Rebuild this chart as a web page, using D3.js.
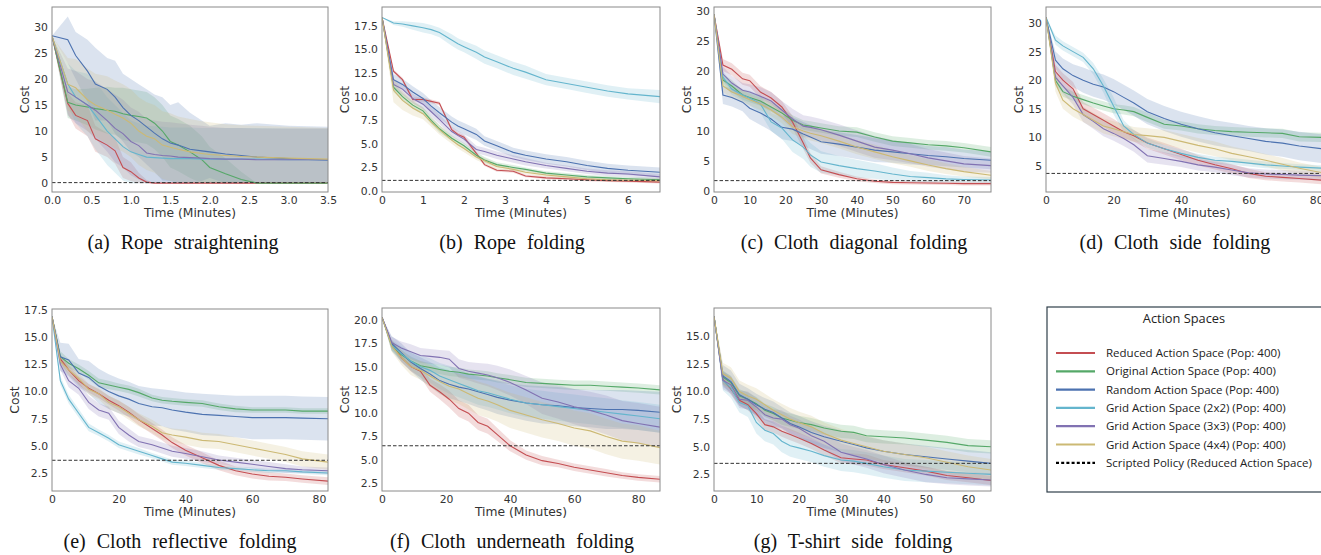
<!DOCTYPE html>
<html>
<head>
<meta charset="utf-8">
<script src="https://cdn.jsdelivr.net/npm/d3@7"></script>
<style>
  body { margin: 0; background: #fff; }
  text { font-family: "DejaVu Sans", sans-serif; }
</style>
</head>
<body>
<div id="chart"></div>
<script>
// series order: reduced, original, random, grid 2x2, grid 3x3, grid 4x4
var seriesNames = ["Reduced Action Space (Pop: 400)", "Original Action Space (Pop: 400)", "Random Action Space (Pop: 400)",
  "Grid Action Space (2x2) (Pop: 400)", "Grid Action Space (3x3) (Pop: 400)", "Grid Action Space (4x4) (Pop: 400)"];
var scriptedName = "Scripted Policy (Reduced Action Space)";
var seriesColors = ["#C44E52", "#55A868", "#4C72B0", "#64B5CD", "#8172B2", "#CCB974"];

// (a) Rope straightening
var ropeStraightTime = [0, 0.2, 0.3, 0.45, 0.55, 0.7, 0.8, 0.9, 1.0, 1.1, 1.2, 1.3, 1.4, 1.5, 1.6, 1.75, 1.9, 2.0, 2.2, 2.4, 2.6, 3.0, 3.5];
var ropeStraightMean = [
  [28.2, 15.3, 13, 12, 8.5, 7.3, 6.2, 3, 2.2, 1, 0.2, 0, 0, 0, 0, 0, 0, 0, 0, 0, 0, 0, 0],
  [28.2, 15.5, 15, 14.6, 14.3, 14, 13.8, 13.3, 13, 12.8, 12.5, 11.5, 10, 8, 7.3, 6, 4.5, 3, 1.8, 0.7, 0, 0, 0],
  [28.3, 27.5, 24.5, 21.5, 19, 18, 16.5, 14.5, 13, 12, 10.8, 9.6, 8.5, 7.7, 7.3, 6.5, 6.2, 6, 5.6, 5.3, 5, 4.7, 4.4],
  [28.2, 19, 16.5, 15, 13, 10, 8.5, 7, 6, 5.5, 5, 4.9, 4.8, 4.7, 4.7, 4.7, 4.6, 4.6, 4.6, 4.6, 4.6, 4.5, 4.5],
  [28.2, 17.5, 16.5, 15, 14, 12, 10.5, 9.5, 8, 7.2, 5.8, 5.5, 5.3, 5.2, 5, 4.9, 4.8, 4.7, 4.6, 4.6, 4.5, 4.5, 4.5],
  [28.2, 19, 18.3, 16, 15, 14, 13.2, 12.5, 11.5, 10, 9, 8.5, 7.3, 6.9, 6.5, 6, 5.7, 5.5, 5.3, 5.1, 5, 4.8, 4.6]
];
var ropeStraightSpread = [
  [0, 2, 2.5, 3, 2.5, 2.3, 2.5, 2, 1.8, 1, 0.4, 0, 0, 0, 0, 0, 0, 0, 0, 0, 0, 0, 0],
  [0, 3, 3, 3.5, 4, 4.5, 4.5, 5, 5, 5, 5, 5, 5, 5, 5, 5, 4.5, 4, 3, 1.5, 0, 0, 0],
  [0, 4.5, 4.5, 6, 7, 6, 7, 6.5, 7, 7, 7.2, 7.4, 8, 7.3, 8.2, 7, 5.8, 5, 5.9, 5.9, 6.5, 6.3, 6.4],
  [0, 4, 5, 6, 6.5, 6.5, 6.5, 6.5, 6, 6, 6, 6, 6, 6, 6, 6, 6, 6, 6, 6, 6, 6, 6],
  [0, 4.5, 5, 5, 5.5, 6, 6.5, 6.5, 6.5, 6.5, 6.5, 6.5, 6.5, 6.5, 6.5, 6.3, 6.2, 6.1, 6, 6, 6, 6, 6],
  [0, 5, 5.5, 6, 6, 6.5, 6.5, 6.5, 6.5, 6.5, 6.5, 6.5, 6.5, 6.5, 6.3, 6.3, 6.2, 6.2, 6, 6, 6, 6, 6]
];
var ropeStraightScripted = 0.1;
var ropeStraightXTicks = [0, 0.5, 1.0, 1.5, 2.0, 2.5, 3.0, 3.5];
var ropeStraightYTicks = [0, 5, 10, 15, 20, 25, 30];

// (b) Rope folding
var ropeFoldTime = [0, 0.28, 0.5, 0.75, 1.0, 1.2, 1.4, 1.7, 1.85, 2.0, 2.3, 2.5, 2.8, 3.2, 3.5, 4.0, 4.5, 5.0, 5.5, 6.0, 6.78];
var ropeFoldMean = [
  [18.4, 12.7, 11.8, 9.7, 9.7, 9.5, 9.3, 6.5, 6.0, 5.7, 4.0, 2.8, 2.2, 2.1, 1.6, 1.4, 1.3, 1.2, 1.1, 1.05, 0.95],
  [18.4, 11.0, 10.0, 9.1, 8.5, 7.5, 6.6, 5.6, 5.2, 4.8, 3.8, 3.3, 2.8, 2.5, 2.3, 1.9, 1.7, 1.5, 1.4, 1.3, 1.2],
  [18.4, 11.8, 11.3, 10.5, 9.8, 9.0, 8.3, 7.3, 6.9, 6.6, 6.0, 5.3, 4.8, 4.1, 3.8, 3.4, 3.1, 2.7, 2.4, 2.2, 2.0],
  [18.4, 17.8, 17.7, 17.5, 17.3, 17.1, 16.8, 16.0, 15.6, 15.3, 14.7, 14.2, 13.7, 13.0, 12.6, 11.8, 11.4, 11.0, 10.6, 10.3, 10.0],
  [18.4, 11.3, 10.8, 9.8, 9.2, 8.4, 7.6, 6.3, 5.9, 5.5, 4.4, 4.2, 3.8, 3.4, 3.1, 2.7, 2.4, 2.1, 1.9, 1.8, 1.5],
  [18.4, 10.7, 9.6, 8.8, 8.2, 7.3, 6.5, 5.4, 4.9, 4.5, 3.6, 3.2, 2.6, 2.3, 2.0, 1.7, 1.5, 1.3, 1.2, 1.15, 1.1]
];
var ropeFoldSpread = [
  [0, 0.2, 0.2, 0.2, 0.2, 0.2, 0.2, 0.2, 0.2, 0.2, 0.2, 0.15, 0.15, 0.15, 0.15, 0.15, 0.15, 0.15, 0.15, 0.15, 0.15],
  [0, 0.5, 0.4, 0.4, 0.4, 0.4, 0.4, 0.3, 0.3, 0.3, 0.3, 0.3, 0.25, 0.25, 0.2, 0.2, 0.2, 0.2, 0.2, 0.2, 0.2],
  [0, 0.6, 0.6, 0.6, 0.6, 0.6, 0.6, 0.6, 0.6, 0.6, 0.6, 0.5, 0.5, 0.5, 0.5, 0.5, 0.5, 0.5, 0.5, 0.5, 0.5],
  [0, 0.2, 0.3, 0.4, 0.5, 0.5, 0.5, 0.6, 0.6, 0.6, 0.7, 0.7, 0.7, 0.7, 0.7, 0.6, 0.6, 0.6, 0.6, 0.6, 0.7],
  [0, 0.6, 0.6, 0.5, 0.5, 0.5, 0.5, 0.5, 0.5, 0.5, 0.4, 0.4, 0.4, 0.4, 0.4, 0.3, 0.3, 0.3, 0.3, 0.3, 0.3],
  [0, 1.3, 1.0, 0.8, 0.6, 0.5, 0.5, 0.4, 0.4, 0.4, 0.3, 0.3, 0.3, 0.2, 0.2, 0.2, 0.2, 0.2, 0.2, 0.2, 0.2]
];
var ropeFoldScripted = 1.13;
var ropeFoldXTicks = [0, 1, 2, 3, 4, 5, 6];
var ropeFoldYTicks = [0, 2.5, 5, 7.5, 10, 12.5, 15, 17.5];

// (c) Cloth diagonal folding
var clothDiagTime = [0, 2.5, 5, 8, 10, 13, 16, 19, 22, 25, 27, 30, 35, 40, 45, 50, 55, 60, 65, 70, 77.6];
var clothDiagMean = [
  [29.5, 21, 20.3, 18.7, 18.4, 16.5, 15.5, 14, 11.5, 8, 5.5, 3.5, 2.7, 2.0, 1.6, 1.4, 1.35, 1.3, 1.25, 1.2, 1.2],
  [29.5, 18.5, 17.5, 16, 15.6, 15, 14, 13, 11.8, 11, 10.8, 10.5, 10, 9.8, 9, 8.3, 8, 7.7, 7.5, 7.2, 6.5],
  [29.5, 16, 15.6, 14.8, 13.8, 13, 12, 10.6, 10.3, 9.5, 9, 8.2, 7.8, 7.3, 6.8, 6.5, 6.2, 5.9, 5.7, 5.4, 5.1],
  [29.5, 19, 17, 16, 15.5, 14.5, 11.5, 10.5, 8.5, 7.3, 6, 4.8, 4.2, 3.7, 3.3, 2.8, 2.4, 2.2, 2.0, 1.9, 1.8],
  [29.5, 19.5, 18, 16.8, 16.5, 15.8, 15, 13.5, 12, 10.8, 10.6, 10.2, 9.3, 8.3, 7.3, 6.8, 6.2, 5.5, 5, 4.5, 4.2],
  [29.5, 17.5, 16.5, 15.8, 15.2, 14.5, 13.5, 12.3, 10.7, 10, 9.6, 9.2, 8.3, 7.3, 6.5, 5.7, 5, 4.3, 3.7, 3.2, 2.6]
];
var clothDiagSpread = [
  [0, 1, 1, 1, 1, 1, 1, 1, 1, 1, 0.8, 0.6, 0.5, 0.4, 0.3, 0.3, 0.3, 0.3, 0.3, 0.3, 0.3],
  [0, 1, 1, 0.8, 0.8, 0.8, 0.8, 0.8, 0.8, 0.8, 0.8, 0.8, 0.8, 0.8, 0.8, 0.8, 0.8, 0.8, 0.8, 0.8, 0.8],
  [0, 1.5, 1.5, 1.5, 1.8, 2, 2, 2, 2, 2, 2, 2, 2, 2, 2, 1.8, 1.8, 1.6, 1.6, 1.5, 1.5],
  [0, 1, 1, 1, 1.2, 1.5, 1.5, 1.8, 2, 2, 2, 1.8, 1.6, 1.5, 1.3, 1.1, 0.9, 0.8, 0.6, 0.5, 0.5],
  [0, 1.2, 1.2, 1.2, 1.3, 1.5, 1.5, 1.5, 1.7, 1.8, 1.8, 1.8, 1.8, 1.8, 1.8, 1.7, 1.6, 1.5, 1.4, 1.3, 1.2],
  [0, 1, 1, 1, 1, 1, 1, 1, 1.2, 1.2, 1.2, 1.2, 1.2, 1.2, 1.2, 1.1, 1, 1, 0.9, 0.8, 0.7]
];
var clothDiagScripted = 1.7;
var clothDiagXTicks = [0, 10, 20, 30, 40, 50, 60, 70];
var clothDiagYTicks = [0, 5, 10, 15, 20, 25, 30];

// (d) Cloth side folding
var clothSideTime = [0, 2.8, 5, 8, 11, 14, 17, 20, 23, 26, 30, 35, 40, 45, 50, 55, 60, 65, 70, 75, 82];
var clothSideMean = [
  [31, 21.5, 20, 18.5, 15, 14, 13, 12, 11, 10.3, 9, 8, 7, 6, 5.2, 4.5, 3.7, 3.2, 3, 2.8, 2.5],
  [31, 20, 18, 17.2, 16.6, 16, 15.5, 15, 14.8, 14.5, 13.5, 12.3, 12, 11.5, 11.2, 11, 10.9, 10.8, 10.7, 10.1, 10],
  [31, 23.5, 22, 20.8, 20, 19.3, 18.8, 18, 17, 16, 14.5, 13.3, 12.3, 11.5, 10.8, 10.3, 9.8, 9.3, 9, 8.5, 8],
  [31, 27, 26, 25, 24, 22, 19, 15.5, 12, 10.5, 9, 8, 7.2, 6.5, 6, 5.8, 5.5, 5.2, 5, 4.8, 4.6],
  [31, 20.5, 19, 17, 14, 12.8, 11.5, 10.7, 9.8, 8.7, 6.8, 6.3, 5.8, 5.2, 4.8, 4.3, 3.8, 3.6, 3.5, 3.4, 3.3],
  [31, 19.5, 16.5, 15, 14, 13, 12, 11.5, 11, 10.5, 10.3, 10, 9.3, 8.6, 8, 7.2, 6.6, 6, 5.3, 4.6, 3.8]
];
var clothSideSpread = [
  [0, 1.2, 1.2, 1.2, 1.2, 1.2, 1.2, 1.2, 1.1, 1, 1, 1, 1, 0.9, 0.8, 0.8, 0.8, 0.7, 0.7, 0.7, 0.7],
  [0, 1, 0.9, 0.8, 0.8, 0.8, 0.8, 0.8, 0.8, 0.8, 0.8, 0.8, 0.8, 0.8, 0.8, 0.8, 0.8, 0.8, 0.8, 0.8, 0.8],
  [0, 1.5, 1.8, 2, 2.2, 2.2, 2.2, 2.2, 2.2, 2.2, 2.2, 2.2, 2.2, 2.2, 2.2, 2.2, 2.2, 2.3, 2.4, 2.5, 2.5],
  [0, 0.8, 0.8, 0.8, 0.8, 1, 1.2, 1.5, 1, 0.8, 0.8, 0.7, 0.7, 0.6, 0.6, 0.6, 0.6, 0.6, 0.5, 0.5, 0.5],
  [0, 1.2, 1.3, 1.3, 1.3, 1.3, 1.3, 1.3, 1.3, 1.2, 1.2, 1.1, 1, 1, 0.9, 0.9, 0.8, 0.8, 0.8, 0.8, 0.8],
  [0, 1.5, 1.5, 1.4, 1.3, 1.3, 1.3, 1.3, 1.3, 1.3, 1.3, 1.3, 1.3, 1.3, 1.3, 1.2, 1.2, 1.1, 1.1, 1, 1]
];
var clothSideScripted = 3.7;
var clothSideXTicks = [0, 20, 40, 60, 80];
var clothSideYTicks = [5, 10, 15, 20, 25, 30];

// (e) Cloth reflective folding
var clothReflTime = [0, 2.5, 5, 8, 11, 14, 17, 20, 23, 26, 30, 33, 36, 40, 45, 50, 55, 60, 65, 70, 75, 82.7];
var clothReflMean = [
  [16.9, 13, 12, 11, 10.3, 9.8, 9.2, 8.7, 8.1, 7.4, 6.6, 6.0, 5.3, 4.6, 3.9, 3.2, 2.7, 2.4, 2.2, 2.1, 1.95, 1.75],
  [16.9, 13.2, 12.6, 12.1, 11.5, 10.8, 10.6, 10.4, 10.2, 9.9, 9.4, 9.2, 9.1, 9.0, 8.9, 8.6, 8.4, 8.3, 8.3, 8.3, 8.2, 8.2],
  [16.9, 13.2, 12.9, 11.7, 11.3, 10.5, 10, 9.6, 9.3, 8.9, 8.6, 8.5, 8.3, 8.1, 7.9, 7.8, 7.7, 7.6, 7.6, 7.6, 7.55, 7.5],
  [16.9, 11, 9.3, 8.0, 6.7, 6.2, 5.7, 5.1, 4.8, 4.5, 4.1, 3.8, 3.5, 3.4, 3.2, 3.0, 2.9, 2.8, 2.7, 2.7, 2.6, 2.5],
  [16.9, 12.5, 11, 10.3, 9, 8.3, 8, 6.7, 6, 5.4, 5.1, 4.8, 4.5, 4.3, 4.0, 3.7, 3.5, 3.3, 3.1, 2.9, 2.8, 2.7],
  [16.9, 12.8, 12.0, 11.2, 10.2, 9.8, 9.0, 8.6, 8.0, 7.4, 6.8, 6.2, 6.0, 5.8, 5.5, 5.4, 5.1, 4.8, 4.5, 4.2, 3.8, 3.5]
];
var clothReflSpread = [
  [0, 0.4, 0.4, 0.4, 0.4, 0.4, 0.4, 0.45, 0.5, 0.5, 0.5, 0.5, 0.5, 0.5, 0.5, 0.45, 0.4, 0.4, 0.4, 0.35, 0.35, 0.35],
  [0, 0.5, 0.4, 0.4, 0.4, 0.4, 0.4, 0.35, 0.35, 0.35, 0.3, 0.3, 0.3, 0.3, 0.3, 0.3, 0.3, 0.25, 0.25, 0.25, 0.25, 0.25],
  [0, 1.3, 1.5, 1.3, 1.5, 1.6, 1.6, 1.6, 1.6, 1.6, 1.7, 1.7, 1.8, 1.8, 1.9, 1.9, 1.9, 2.0, 2.0, 2.0, 2.0, 2.0],
  [0, 0.4, 0.4, 0.4, 0.35, 0.3, 0.3, 0.3, 0.3, 0.3, 0.25, 0.25, 0.25, 0.25, 0.25, 0.2, 0.2, 0.2, 0.2, 0.2, 0.2, 0.2],
  [0, 0.5, 0.6, 0.6, 0.6, 0.6, 0.6, 0.6, 0.6, 0.5, 0.5, 0.5, 0.5, 0.5, 0.5, 0.4, 0.4, 0.4, 0.4, 0.4, 0.3, 0.3],
  [0, 0.4, 0.5, 0.5, 0.5, 0.5, 0.6, 0.6, 0.6, 0.6, 0.6, 0.6, 0.6, 0.7, 0.7, 0.7, 0.7, 0.7, 0.7, 0.7, 0.7, 0.7]
];
var clothReflScripted = 3.67;
var clothReflXTicks = [0, 20, 40, 60, 80];
var clothReflYTicks = [2.5, 5, 7.5, 10, 12.5, 15, 17.5];

// (f) Cloth underneath folding
var clothUnderTime = [0, 3, 6, 9, 12, 15, 18, 21, 24, 27, 30, 33, 36, 40, 45, 50, 55, 60, 65, 70, 75, 80, 86.8];
var clothUnderMean = [
  [20.3, 17.5, 16, 15, 14.5, 13, 12.3, 11.5, 10.5, 10, 9, 8.6, 7.7, 6.5, 5.5, 4.9, 4.6, 4.2, 3.9, 3.6, 3.3, 3.1, 2.9],
  [20.3, 17.3, 16.3, 15.6, 15.1, 14.9, 14.7, 14.5, 14.4, 14.2, 14.1, 14, 13.8, 13.6, 13.3, 13.2, 13.1, 13.0, 13.0, 12.9, 12.8, 12.7, 12.5],
  [20.3, 17.5, 16.5, 15.5, 14.8, 14.2, 13.5, 13.1, 12.8, 12.6, 12.3, 12.0, 11.7, 11.4, 11.1, 10.9, 10.8, 10.6, 10.5, 10.4, 10.4, 10.3, 10.1],
  [20.3, 17.3, 16.4, 15.6, 15.0, 14.6, 14.0, 13.6, 13.2, 12.8, 12.4, 12.2, 11.9, 11.5, 11.1, 10.9, 10.7, 10.5, 10.3, 10.1, 9.9, 9.7, 9.4],
  [20.3, 17.6, 17, 16.6, 16.2, 16.1, 16.0, 15.8, 14.8, 14.5, 14.3, 14.1, 13.8, 13.3, 12.5, 11.6, 11.2, 10.7, 10.3, 9.8, 9.2, 8.9, 8.5],
  [20.3, 17.2, 16, 15, 14.6, 14, 13.4, 12.9, 12.6, 12.1, 11.6, 11.3, 10.9, 10.3, 9.8, 9.3, 8.9, 8.4, 8.1, 7.5, 7.0, 6.8, 6.3]
];
var clothUnderSpread = [
  [0, 0.4, 0.5, 0.5, 0.6, 0.7, 0.8, 0.9, 0.9, 0.9, 0.8, 0.8, 0.7, 0.6, 0.5, 0.5, 0.4, 0.4, 0.4, 0.4, 0.35, 0.35, 0.35],
  [0, 0.5, 0.5, 0.5, 0.5, 0.5, 0.5, 0.5, 0.5, 0.5, 0.5, 0.5, 0.5, 0.5, 0.5, 0.5, 0.5, 0.5, 0.5, 0.5, 0.5, 0.5, 0.5],
  [0, 0.8, 1, 1, 1.2, 1.3, 1.4, 1.5, 1.5, 1.6, 1.7, 1.7, 1.8, 1.8, 1.9, 2, 2, 2, 2, 2.1, 2.1, 2.1, 2.2],
  [0, 0.6, 0.8, 1, 1.2, 1.3, 1.4, 1.5, 1.5, 1.5, 1.5, 1.5, 1.5, 1.5, 1.5, 1.5, 1.5, 1.5, 1.5, 1.5, 1.5, 1.5, 1.5],
  [0, 0.6, 0.7, 0.8, 0.8, 0.8, 0.8, 0.9, 1, 1, 1.1, 1.2, 1.3, 1.4, 1.5, 1.7, 1.8, 1.9, 2, 2.1, 2.1, 2.2, 2.2],
  [0, 0.6, 0.8, 0.9, 1, 1.2, 1.3, 1.5, 1.6, 1.7, 1.8, 1.8, 1.8, 1.9, 1.9, 1.9, 1.9, 1.9, 1.9, 1.9, 1.9, 1.9, 1.8]
];
var clothUnderScripted = 6.5;
var clothUnderXTicks = [0, 20, 40, 60, 80];
var clothUnderYTicks = [2.5, 5, 7.5, 10, 12.5, 15, 17.5, 20];

// (g) T-shirt side folding
var tshirtTime = [0, 2.1, 4, 6, 8, 10, 12, 14, 16, 18, 20, 23, 26, 30, 33, 36, 40, 45, 50, 55, 60, 65.4];
var tshirtMean = [
  [16.8, 11.1, 10.2, 9.2, 8.8, 8.0, 7.0, 6.8, 6.4, 6.1, 5.8, 5.3, 4.7, 4.0, 3.9, 3.8, 3.4, 3.1, 2.8, 2.4, 2.2, 1.95],
  [16.8, 11.3, 10.8, 9.6, 9.3, 8.9, 8.3, 8.0, 7.6, 7.4, 7.2, 7.0, 6.7, 6.4, 6.3, 6.0, 5.9, 5.8, 5.6, 5.4, 5.1, 5.0],
  [16.8, 11.4, 10.9, 9.7, 9.3, 8.8, 8.4, 8.1, 7.6, 7.1, 6.8, 6.3, 5.9, 5.5, 5.2, 4.9, 4.6, 4.3, 4.1, 3.9, 3.7, 3.5],
  [16.8, 11.0, 10.3, 9.0, 8.7, 7.2, 6.5, 6.2, 5.5, 5.1, 4.9, 4.6, 4.2, 3.8, 3.7, 3.5, 3.2, 2.9, 2.8, 2.7, 2.6, 2.5],
  [16.8, 11.0, 10.6, 9.3, 9.2, 8.6, 7.9, 7.6, 7.5, 7.0, 6.7, 6.0, 5.5, 4.5, 4.2, 3.9, 3.4, 2.9, 2.5, 2.2, 2.1, 2.0],
  [16.8, 11.6, 11.2, 10.0, 9.6, 9.3, 8.8, 8.3, 7.9, 7.5, 7.2, 6.8, 6.2, 5.6, 5.3, 5.0, 4.6, 4.3, 4.0, 3.6, 3.2, 2.9]
];
var tshirtSpread = [
  [0, 0.5, 0.5, 0.5, 0.5, 0.5, 0.5, 0.5, 0.5, 0.5, 0.5, 0.5, 0.5, 0.5, 0.5, 0.5, 0.4, 0.4, 0.4, 0.4, 0.4, 0.4],
  [0, 0.6, 0.6, 0.6, 0.6, 0.6, 0.6, 0.6, 0.6, 0.6, 0.6, 0.6, 0.6, 0.6, 0.6, 0.6, 0.6, 0.6, 0.6, 0.6, 0.6, 0.6],
  [0, 1, 1, 1, 1, 1, 1, 1, 1, 1, 1, 1, 1, 1, 1, 1, 1, 1, 1, 1, 1, 1],
  [0, 0.9, 0.9, 0.9, 1, 1, 1, 1, 1, 1, 1, 1, 1, 1, 1, 1, 1, 1, 1, 1, 1, 1],
  [0, 0.8, 0.8, 0.8, 0.8, 0.8, 0.8, 0.8, 0.8, 0.8, 0.8, 0.8, 0.8, 0.8, 0.8, 0.8, 0.8, 0.7, 0.7, 0.6, 0.6, 0.6],
  [0, 1, 1, 1, 1, 1, 1, 1, 1, 1, 1, 1, 1, 1, 1, 1, 1, 1, 1, 1, 1, 1]
];
var tshirtScripted = 3.5;
var tshirtXTicks = [0, 10, 20, 30, 40, 50, 60];
var tshirtYTicks = [2.5, 5, 7.5, 10, 12.5, 15];

// panel placement (left, top, right, bottom) and y ranges
var panels = [
  {time: ropeStraightTime, mean: ropeStraightMean, spread: ropeStraightSpread, scripted: ropeStraightScripted,
   xTicks: ropeStraightXTicks, yTicks: ropeStraightYTicks, xFmt: ".1f", yFmt: "d", yDomain: [-1.7, 33.8],
   box: [52, 7, 328, 192], caption: "(a) Rope straightening", capX: 183, capY: 249},
  {time: ropeFoldTime, mean: ropeFoldMean, spread: ropeFoldSpread, scripted: ropeFoldScripted,
   xTicks: ropeFoldXTicks, yTicks: ropeFoldYTicks, xFmt: "d", yFmt: ".1f", yDomain: [-0.1, 19.5],
   box: [382, 7, 660, 192], caption: "(b) Rope folding", capX: 512, capY: 249},
  {time: clothDiagTime, mean: clothDiagMean, spread: clothDiagSpread, scripted: clothDiagScripted,
   xTicks: clothDiagXTicks, yTicks: clothDiagYTicks, xFmt: "d", yFmt: "d", yDomain: [-0.2, 30.7],
   box: [714, 7, 991, 192], caption: "(c) Cloth diagonal folding", capX: 854, capY: 249},
  {time: clothSideTime, mean: clothSideMean, spread: clothSideSpread, scripted: clothSideScripted,
   xTicks: clothSideXTicks, yTicks: clothSideYTicks, xFmt: "d", yFmt: "d", yDomain: [0.45, 32.8],
   box: [1046, 7, 1323, 192], caption: "(d) Cloth side folding", capX: 1175, capY: 249},
  {time: clothReflTime, mean: clothReflMean, spread: clothReflSpread, scripted: clothReflScripted,
   xTicks: clothReflXTicks, yTicks: clothReflYTicks, xFmt: "d", yFmt: ".1f", yDomain: [0.84, 17.6],
   box: [52, 309, 328, 491], caption: "(e) Cloth reflective folding", capX: 180, capY: 548},
  {time: clothUnderTime, mean: clothUnderMean, spread: clothUnderSpread, scripted: clothUnderScripted,
   xTicks: clothUnderXTicks, yTicks: clothUnderYTicks, xFmt: "d", yFmt: ".1f", yDomain: [1.64, 21.3],
   box: [382, 308, 660, 491], caption: "(f) Cloth underneath folding", capX: 512, capY: 548},
  {time: tshirtTime, mean: tshirtMean, spread: tshirtSpread, scripted: tshirtScripted,
   xTicks: tshirtXTicks, yTicks: tshirtYTicks, xFmt: "d", yFmt: ".1f", yDomain: [1.0, 17.55],
   box: [714, 308, 991, 491], caption: "(g) T-shirt side folding", capX: 853, capY: 548}
];

var svg = d3.select("#chart").append("svg")
    .attr("width", 1321)
    .attr("height", 555)
    .style("background", "#fff");

var defs = svg.append("defs");

panels.forEach(function(p, pi) {
  var left = p.box[0], top = p.box[1], right = p.box[2], bottom = p.box[3];

  var x = d3.scaleLinear().domain([0, d3.max(p.time)]).range([left, right]);
  var y = d3.scaleLinear().domain(p.yDomain).range([bottom, top]);

  defs.append("clipPath").attr("id", "clip" + pi)
    .append("rect")
      .attr("x", left).attr("y", top)
      .attr("width", right - left).attr("height", bottom - top);

  var g = svg.append("g");
  var plot = g.append("g").attr("clip-path", "url(#clip" + pi + ")");

  // confidence bands under everything
  p.mean.forEach(function(m, si) {
    var band = d3.area()
        .x(function(d, i) { return x(p.time[i]); })
        .y0(function(d, i) { return y(Math.max(0, d - p.spread[si][i])); })
        .y1(function(d, i) { return y(d + p.spread[si][i]); });
    plot.append("path")
        .datum(m)
        .attr("d", band)
        .attr("fill", seriesColors[si])
        .attr("fill-opacity", 0.2)
        .attr("stroke", "none");
  });

  p.mean.forEach(function(m, si) {
    var line = d3.line()
        .x(function(d, i) { return x(p.time[i]); })
        .y(function(d) { return y(d); });
    plot.append("path")
        .datum(m)
        .attr("d", line)
        .attr("fill", "none")
        .attr("stroke", seriesColors[si])
        .attr("stroke-width", 1.1);
  });

  // scripted policy baseline
  plot.append("line")
      .attr("x1", x(0)).attr("x2", x(d3.max(p.time)))
      .attr("y1", y(p.scripted)).attr("y2", y(p.scripted))
      .attr("stroke", "#333")
      .attr("stroke-width", 1)
      .attr("stroke-dasharray", "3.5,2");

  // frame
  g.append("rect")
      .attr("x", left).attr("y", top)
      .attr("width", right - left).attr("height", bottom - top)
      .attr("fill", "none")
      .attr("stroke", "#8a8a8a")
      .attr("stroke-width", 1);

  var xAxis = d3.axisBottom(x).tickValues(p.xTicks).tickSize(0).tickPadding(4)
      .tickFormat(d3.format(p.xFmt));
  var yAxis = d3.axisLeft(y).tickValues(p.yTicks).tickSize(0).tickPadding(4)
      .tickFormat(d3.format(p.yFmt));

  var gx = g.append("g").attr("transform", "translate(0," + bottom + ")").call(xAxis);
  var gy = g.append("g").attr("transform", "translate(" + left + ",0)").call(yAxis);
  [gx, gy].forEach(function(a) {
    a.select(".domain").remove();
    a.selectAll("text").attr("font-family", "DejaVu Sans").attr("font-size", 10.8).attr("fill", "#333");
  });

  var maxW = 0;
  gy.selectAll("text").each(function() { maxW = Math.max(maxW, this.getBBox().width); });

  g.append("text")
      .attr("x", (left + right) / 2)
      .attr("y", bottom + 25)
      .attr("text-anchor", "middle")
      .attr("font-size", 12.3)
      .attr("fill", "#333")
      .text("Time (Minutes)");

  g.append("text")
      .attr("transform", "translate(" + (left - maxW - 9) + "," + ((top + bottom) / 2) + ") rotate(-90)")
      .attr("text-anchor", "middle")
      .attr("font-size", 12.3)
      .attr("fill", "#333")
      .text("Cost");

  svg.append("text")
      .attr("x", p.capX)
      .attr("y", p.capY)
      .attr("text-anchor", "middle")
      .style("font-family", "'Liberation Serif', 'Times New Roman', serif")
      .style("font-size", "20px")
      .style("word-spacing", "6px")
      .attr("fill", "#111")
      .text(p.caption);
});

// legend box
var legend = svg.append("g");
legend.append("rect")
    .attr("x", 1047).attr("y", 307)
    .attr("width", 290).attr("height", 185)
    .attr("fill", "#fff")
    .attr("stroke", "#2f3f4a")
    .attr("stroke-width", 1.2);

legend.append("text")
    .attr("x", 1184).attr("y", 322.5)
    .attr("text-anchor", "middle")
    .style("font-family", "'Open Sans', sans-serif")
    .style("font-size", "12.8px")
    .attr("fill", "#222")
    .text("Action Spaces");

var legendItems = seriesNames.concat([scriptedName]);
legendItems.forEach(function(name, i) {
  var ly = 353 + i * 18.3;
  legend.append("line")
      .attr("x1", 1056).attr("x2", 1095)
      .attr("y1", ly).attr("y2", ly)
      .attr("stroke", i < seriesColors.length ? seriesColors[i] : "#000")
      .attr("stroke-width", 2.2)
      .attr("stroke-dasharray", i < seriesColors.length ? null : "3,2.2");
  legend.append("text")
      .attr("x", 1106).attr("y", ly + 4)
      .style("font-family", "'Open Sans', sans-serif")
      .style("font-size", "11.5px")
      .attr("fill", "#222")
      .text(name);
});
</script>
</body>
</html>
